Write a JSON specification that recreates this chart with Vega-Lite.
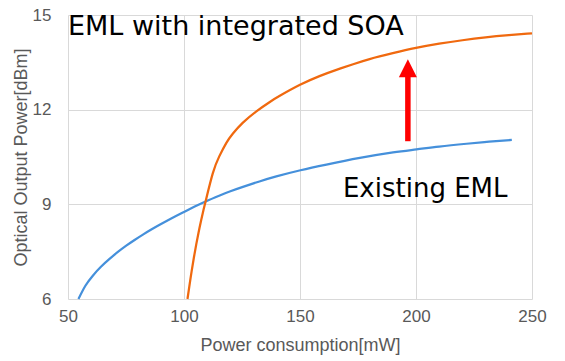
{
  "$schema": "https://vega.github.io/schema/vega-lite/v6.json",
  "autosize": {"type": "none"},
  "padding": {"left": 68, "top": 15, "right": 33, "bottom": 62},
  "width": 464,
  "height": 284,
  "background": "#ffffff",
  "config": {
    "view": {"stroke": null},
    "axis": {
      "grid": true,
      "gridColor": "#D9D9D9",
      "gridWidth": 1,
      "domain": false,
      "ticks": false,
      "labelFlush": false,
      "labelFont": "Liberation Sans",
      "labelFontSize": 17,
      "labelColor": "#595959",
      "titleFont": "Liberation Sans",
      "titleFontSize": 18,
      "titleFontWeight": "normal",
      "titleColor": "#595959"
    }
  },
  "datasets": {
    "curves": [
      {"series": "Existing EML", "x": 54.5, "y": 6.0},
      {"series": "Existing EML", "x": 57.5, "y": 6.42},
      {"series": "Existing EML", "x": 60.7, "y": 6.74},
      {"series": "Existing EML", "x": 64.2, "y": 7.02},
      {"series": "Existing EML", "x": 67.9, "y": 7.27},
      {"series": "Existing EML", "x": 71.5, "y": 7.49},
      {"series": "Existing EML", "x": 75.1, "y": 7.69},
      {"series": "Existing EML", "x": 78.7, "y": 7.87},
      {"series": "Existing EML", "x": 82.3, "y": 8.04},
      {"series": "Existing EML", "x": 85.9, "y": 8.20},
      {"series": "Existing EML", "x": 89.5, "y": 8.35},
      {"series": "Existing EML", "x": 94.5, "y": 8.55},
      {"series": "Existing EML", "x": 99.5, "y": 8.74},
      {"series": "Existing EML", "x": 104.4, "y": 8.92},
      {"series": "Existing EML", "x": 109.3, "y": 9.09},
      {"series": "Existing EML", "x": 115.4, "y": 9.28},
      {"series": "Existing EML", "x": 120.0, "y": 9.415},
      {"series": "Existing EML", "x": 125.4, "y": 9.555},
      {"series": "Existing EML", "x": 132.5, "y": 9.725},
      {"series": "Existing EML", "x": 139.8, "y": 9.885},
      {"series": "Existing EML", "x": 150.2, "y": 10.08},
      {"series": "Existing EML", "x": 161.4, "y": 10.26},
      {"series": "Existing EML", "x": 175.8, "y": 10.47},
      {"series": "Existing EML", "x": 190.1, "y": 10.645},
      {"series": "Existing EML", "x": 200.2, "y": 10.74},
      {"series": "Existing EML", "x": 210.0, "y": 10.83},
      {"series": "Existing EML", "x": 221.8, "y": 10.92},
      {"series": "Existing EML", "x": 231.5, "y": 10.985},
      {"series": "Existing EML", "x": 241.3, "y": 11.04},
      {"series": "EML with integrated SOA", "x": 101.5, "y": 6.0},
      {"series": "EML with integrated SOA", "x": 102.3, "y": 6.40},
      {"series": "EML with integrated SOA", "x": 103.3, "y": 6.885},
      {"series": "EML with integrated SOA", "x": 104.3, "y": 7.33},
      {"series": "EML with integrated SOA", "x": 105.3, "y": 7.74},
      {"series": "EML with integrated SOA", "x": 106.3, "y": 8.115},
      {"series": "EML with integrated SOA", "x": 107.3, "y": 8.465},
      {"series": "EML with integrated SOA", "x": 108.3, "y": 8.79},
      {"series": "EML with integrated SOA", "x": 109.3, "y": 9.09},
      {"series": "EML with integrated SOA", "x": 112.4, "y": 9.98},
      {"series": "EML with integrated SOA", "x": 115.2, "y": 10.52},
      {"series": "EML with integrated SOA", "x": 118.2, "y": 10.94},
      {"series": "EML with integrated SOA", "x": 121.1, "y": 11.245},
      {"series": "EML with integrated SOA", "x": 125.4, "y": 11.589},
      {"series": "EML with integrated SOA", "x": 131.2, "y": 11.949},
      {"series": "EML with integrated SOA", "x": 137.0, "y": 12.245},
      {"series": "EML with integrated SOA", "x": 141.3, "y": 12.439},
      {"series": "EML with integrated SOA", "x": 150.0, "y": 12.787},
      {"series": "EML with integrated SOA", "x": 158.4, "y": 13.064},
      {"series": "EML with integrated SOA", "x": 165.7, "y": 13.261},
      {"series": "EML with integrated SOA", "x": 172.9, "y": 13.441},
      {"series": "EML with integrated SOA", "x": 180.0, "y": 13.604},
      {"series": "EML with integrated SOA", "x": 190.0, "y": 13.79},
      {"series": "EML with integrated SOA", "x": 200.0, "y": 13.955},
      {"series": "EML with integrated SOA", "x": 210.0, "y": 14.09},
      {"series": "EML with integrated SOA", "x": 220.0, "y": 14.20},
      {"series": "EML with integrated SOA", "x": 230.0, "y": 14.29},
      {"series": "EML with integrated SOA", "x": 240.0, "y": 14.36},
      {"series": "EML with integrated SOA", "x": 250.0, "y": 14.42}
    ],
    "arrow": [
      {"x": 196.5, "y": 11.0, "y2": 13.1, "head": 13.31}
    ],
    "labels": [
      {"text": "EML with integrated SOA", "x": 50, "y": 14.36, "size": 27},
      {"text": "Existing EML", "x": 168.5, "y": 9.23, "size": 26}
    ]
  },
  "layer": [
    {
      "data": {"name": "curves"},
      "mark": {"type": "line", "interpolate": "natural", "strokeWidth": 2.25},
      "encoding": {
        "x": {
          "field": "x", "type": "quantitative",
          "scale": {"domain": [50, 250], "nice": false, "zero": false},
          "axis": {"values": [50, 100, 150, 200, 250], "title": "Power consumption[mW]", "labelPadding": 9, "titlePadding": 12}
        },
        "y": {
          "field": "y", "type": "quantitative",
          "scale": {"domain": [6, 15], "nice": false, "zero": false},
          "axis": {"values": [6, 9, 12, 15], "title": "Optical Output Power[dBm]", "labelPadding": 17, "titlePadding": 2}
        },
        "color": {
          "field": "series", "type": "nominal",
          "scale": {"domain": ["Existing EML", "EML with integrated SOA"], "range": ["#4590DB", "#F0690F"]},
          "legend": null
        }
      }
    },
    {
      "data": {"name": "arrow"},
      "mark": {"type": "rule", "color": "#FF0000", "strokeWidth": 5.5},
      "encoding": {
        "x": {"field": "x", "type": "quantitative"},
        "y": {"field": "y", "type": "quantitative"},
        "y2": {"field": "y2"}
      }
    },
    {
      "data": {"name": "arrow"},
      "mark": {"type": "point", "shape": "M0,-1L1,1L-1,1Z", "filled": true, "color": "#FF0000", "opacity": 1, "size": 324, "strokeWidth": 0},
      "encoding": {
        "x": {"field": "x", "type": "quantitative"},
        "y": {"field": "head", "type": "quantitative"}
      }
    },
    {
      "data": {"name": "labels"},
      "mark": {"type": "text", "font": "DejaVu Sans", "color": "#000000", "align": "left", "baseline": "alphabetic"},
      "encoding": {
        "x": {"field": "x", "type": "quantitative"},
        "y": {"field": "y", "type": "quantitative"},
        "text": {"field": "text"},
        "size": {"field": "size", "type": "quantitative", "scale": null}
      }
    }
  ]
}
